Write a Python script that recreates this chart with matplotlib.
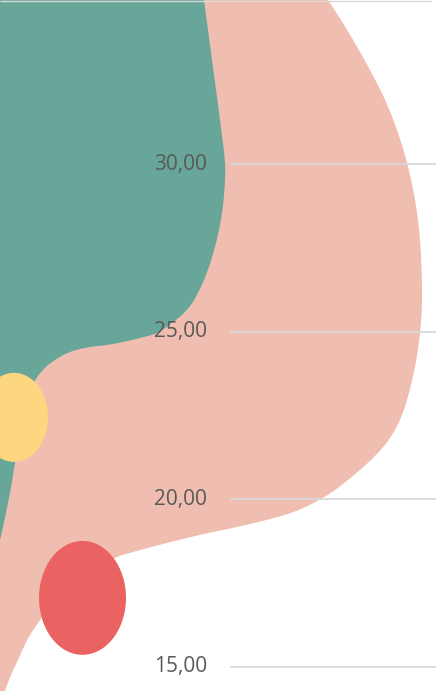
import numpy as np
import matplotlib
matplotlib.use('Agg')
import matplotlib.pyplot as plt
from matplotlib.patches import Ellipse

# value axis
y_ticks = [15, 20, 25, 30]
y_labels = ['15,00', '20,00', '25,00', '30,00']

# salmon area: outer edge (value, width)
salmon_y = [34.90, 34.30, 33.71, 32.81, 31.92, 30.93, 30.04, 28.93, 27.74, 25.95,
            24.96, 23.95, 22.96, 22.51, 22.07, 21.62, 21.17, 20.87, 20.57, 20.21,
            19.89, 19.62, 19.38, 19.14, 18.93, 18.69, 18.42, 18.27, 17.74, 17.08,
            16.39, 15.89, 15.20, 14.60, 14.27]
salmon_x = [328, 341, 353, 370, 385, 398, 407, 415, 420, 422,
            420, 415, 407, 402, 395, 385, 371, 360, 348, 332,
            314, 294, 267, 233, 200, 167, 133, 117, 82, 55,
            40, 29, 18, 9, 5]

# teal area: outer edge (value, width)
teal_y = [34.90, 33.11, 31.32, 30.04, 29.53, 28.54, 27.53, 26.69, 26.10, 25.80,
          25.50, 25.26, 24.96, 24.81, 24.69, 24.60, 24.54, 24.39, 24.15, 23.86,
          23.26, 22.37, 21.08, 20.19, 19.17, 18.78]
teal_x = [204, 212, 220, 225, 225, 222, 215, 206, 197, 191,
          182, 172, 157, 140, 123, 107, 90, 70, 55, 43,
          30, 22, 15, 10, 3, 0]

# bubbles: value, position, size
bubble_y = [22.44, 17.05]
bubble_x = [14, 82.5]
bubble_w = [68, 87]
bubble_h = [2.66, 3.40]
bubble_colors = ['#FDD680', '#EA6262']

Y_MIN, Y_MAX = 14.27, 34.90
PX_PER_UNIT = 33.5  # vertical screen scale, only used for curve shaping


def smooth(xs, ys, n=16, alpha=0.5):
    # centripetal catmull-rom through the points (done in screen-like units)
    p = np.column_stack([xs, np.asarray(ys) * PX_PER_UNIT]).astype(float)
    p = np.vstack([2 * p[0] - p[1], p, 2 * p[-1] - p[-2]])
    out = []
    for i in range(1, len(p) - 2):
        P0, P1, P2, P3 = p[i - 1], p[i], p[i + 1], p[i + 2]
        t0 = 0.0
        t1 = t0 + np.linalg.norm(P1 - P0) ** alpha
        t2 = t1 + np.linalg.norm(P2 - P1) ** alpha
        t3 = t2 + np.linalg.norm(P3 - P2) ** alpha
        t = np.linspace(t1, t2, n, endpoint=False)[:, None]
        A1 = (t1 - t) / (t1 - t0) * P0 + (t - t0) / (t1 - t0) * P1
        A2 = (t2 - t) / (t2 - t1) * P1 + (t - t1) / (t2 - t1) * P2
        A3 = (t3 - t) / (t3 - t2) * P2 + (t - t2) / (t3 - t2) * P3
        B1 = (t2 - t) / (t2 - t0) * A1 + (t - t0) / (t2 - t0) * A2
        B2 = (t3 - t) / (t3 - t1) * A2 + (t - t1) / (t3 - t1) * A3
        C = (t2 - t) / (t2 - t1) * B1 + (t - t1) / (t2 - t1) * B2
        out.append(C)
    out.append(p[-2][None])
    pts = np.vstack(out)
    return pts[:, 0], pts[:, 1] / PX_PER_UNIT


fig = plt.figure(figsize=(4.36, 6.91), dpi=100)
ax = fig.add_axes([0, 0, 1, 1])
ax.set_xlim(0, 436)
ax.set_ylim(Y_MIN, Y_MAX)
ax.axis('off')

# salmon
sx, sy = smooth(salmon_x, salmon_y)
ax.fill(np.r_[sx, 0, 0], np.r_[sy, salmon_y[-1], salmon_y[0]],
        color='#F0BEB0', lw=0, zorder=1)

# teal
tx, ty = smooth(teal_x, teal_y)
ax.fill(np.r_[tx, 0, 0], np.r_[ty, teal_y[-1], teal_y[0]],
        color='#68A699', lw=0, zorder=2)

# bubbles
for bx, by, bw, bh, c in zip(bubble_x, bubble_y, bubble_w, bubble_h, bubble_colors):
    ax.add_patch(Ellipse((bx, by), bw, bh, color=c, lw=0, zorder=2.5))

# grid + labels
ax.hlines(y_ticks, 230, 436, color='#D9D9D9', lw=1.3, zorder=3)
ax.hlines(Y_MAX - 0.015, 0, 431, color='#D9D9D9', lw=1, zorder=3)
for v, lab in zip(y_ticks, y_labels):
    ax.text(207, v, lab, ha='right', va='center', fontsize=15,
            family='Open Sans', color='#595959', zorder=4)

fig.savefig('out.png', dpi=100)
